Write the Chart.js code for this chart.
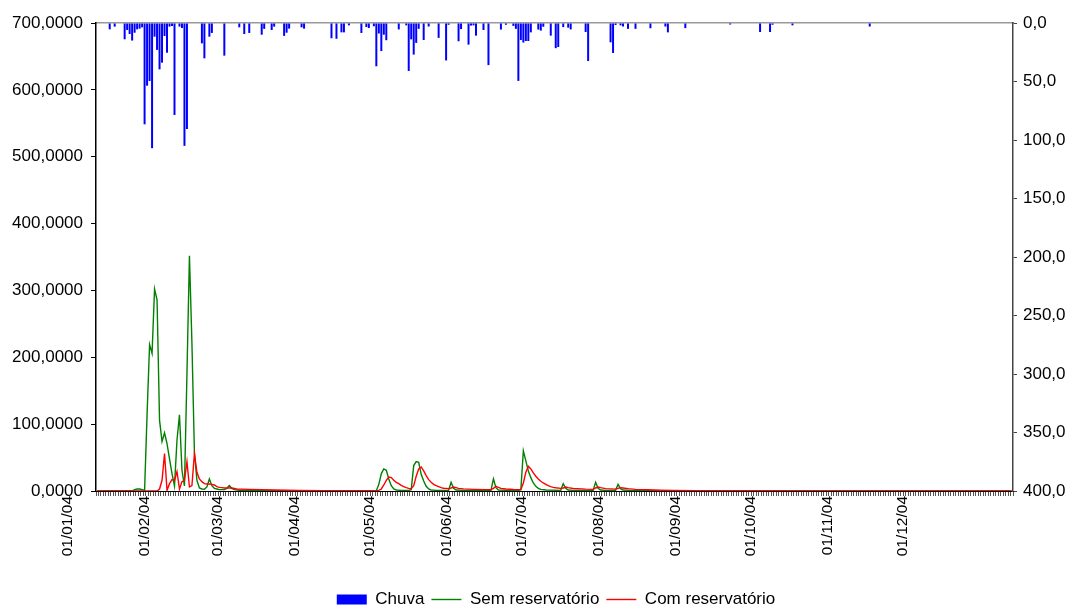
<!DOCTYPE html>
<html>
<head>
<meta charset="utf-8">
<script src="https://cdn.jsdelivr.net/npm/chart.js@4.4.1/dist/chart.umd.min.js"></script>
<style>
  html, body { margin: 0; padding: 0; background: #fff; }
  #wrap { width: 1072px; height: 606px; }
</style>
</head>
<body>
<div id="wrap"><canvas id="chart" width="1072" height="606"></canvas></div>
<script>
// dias: indice 0 = 01/01/04 (a serie comeca em 31/12/03 = -1)
const firstDay = -1;
const lastDay = 366;

// chuva diaria (mm) - [dia, valor]
const chuva = [
  [4,5.4],[6,3.1],[10,13.9],[11,6],[12,9.4],[13,15],[14,8.3],[15,5.4],[16,4.8],[17,3.7],
  [18,86.6],[19,53.6],[20,49.6],[21,107],[22,11.7],[23,23],[24,39.6],[25,33.9],[26,11.1],
  [27,25.4],[28,3.1],[29,2.6],[30,78.6],[32,3.1],[33,4.3],[34,105],[35,90.6],[41,17.4],
  [42,30.2],[44,11.7],[45,8.5],[50,27.9],[56,3.7],[58,9.4],[60,8.5],[65,10],[66,5],[69,6],
  [70,3.1],[74,11],[75,8.3],[76,4.8],[81,3.7],[82,4.8],[93,13],[95,13.5],[97,8],[98,8],
  [100,2],[105,8.5],[107,3.4],[108,4.3],[110,2.8],[111,37],[112,9],[113,24],[114,10],
  [115,14.7],[120,5.5],[123,2],[124,41],[125,14],[126,27],[127,17],[128,5],[130,14.5],
  [132,3],[136,12.7],[139,32],[140,1.5],[144,15.6],[145,5.2],[148,18.5],[149,2.2],[150,2],
  [151,10.8],[154,6],[156,36],[161,5.6],[163,1.5],[166,2.5],[167,5],[168,49.5],[169,14.5],
  [170,16.7],[171,15.4],[172,15.4],[173,8],[176,5.6],[177,6.5],[178,3.2],[181,10.8],
  [183,21.5],[184,20.5],[186,3.5],[188,4],[189,5.5],[195,7.7],[196,32.5],[205,16.5],
  [206,25.6],[207,1.7],[209,2],[210,3],[212,5],[215,5],[221,4.5],[227,3],[228,8],[235,4.4],
  [253,1.3],[265,7.7],[269,7.7],[270,1.5],[278,2],[309,3]
];

// vazao sem reservatorio - [dia, valor]
const semReserv = [
  [-1,0],[13,0],[14,2],[15,3],[16,3],[17,2],[18,1],[19,115],[20,219],[21,206],[22,302],
  [23,286],[24,106],[25,74],[26,87],[27,71],[28,48],[29,26],[30,7.5],[31,76],[32,114],
  [33,31],[34,7.5],[35,175],[36,352],[37,221],[38,57],[39,16],[40,4.5],[41,3],[42,2.5],
  [43,6],[44,18],[45,8],[46,4],[47,3],[48,2],[50,2],[51,4],[52,8],[53,4],[54,2],[56,1.2],
  [60,1],[70,0.5],[90,0.3],[110,0.2],[111,0.5],[112,10],[113,26],[114,33],[115,31],
  [116,18],[117,8],[118,3],[119,1.5],[121,1],[124,0.8],[125,2],[126,38],[127,44],[128,43],
  [129,25],[130,15],[131,7],[132,3],[133,1.5],[135,1],[140,1],[141,13],[142,4],[143,1.5],
  [146,1],[157,0.8],[158,18],[159,5],[160,1.5],[163,1],[168,0.8],[169,2],[170,60],[171,45],
  [172,30],[173,20],[174,12],[175,7],[176,4],[177,2.5],[179,1.5],[185,1],[186,11],[187,4],
  [188,1.5],[190,1],[198,0.8],[199,13],[200,4],[201,1.5],[203,1],[207,1],[208,10],[209,3.5],
  [210,1.5],[213,1],[220,0.6],[230,0.4],[250,0.2],[366,0]
];

// vazao com reservatorio - [dia, valor]
const comReserv = [
  [-1,0],[23,0],[24,3],[25,16],[26,56],[27,1],[28,11],[29,17],[30,16],[31,29],[32,3],
  [33,14],[34,16],[35,44],[36,6],[37,8],[38,56],[39,28],[40,18],[41,14],[42,11],[43,10.5],
  [44,10.5],[45,10],[46,9],[47,6.5],[48,5.5],[49,5],[50,4.5],[52,4.5],[53,4.5],[55,3],
  [60,2.5],[65,2],[70,1.4],[80,0.8],[90,0.6],[100,0.4],[110,0.3],[112,1],[113,3],[114,9],
  [115,16],[116,21],[117,20],[118,16],[119,13],[120,11],[121,8.5],[122,6.5],[123,5],
  [124,4],[125,3.5],[126,8],[127,22],[128,33],[129,36],[130,30],[131,23],[132,17],[133,13],
  [134,10],[135,8],[136,6.5],[137,5],[138,4.2],[140,3.5],[141,4.5],[142,6],[143,5],[144,4],
  [146,3.2],[150,2.5],[155,2],[157,2],[158,4],[159,7],[160,5.5],[161,4],[163,3],[166,2.2],
  [169,2],[170,12],[171,28],[172,37],[173,33],[174,27],[175,22],[176,18],[177,14.5],
  [178,12],[179,10],[180,8],[181,6.5],[182,5.5],[183,4.8],[185,4],[186,4.5],[187,6],
  [188,5],[190,3.8],[195,2.8],[198,2.5],[199,4.5],[200,6],[201,5],[203,3.5],[207,2.8],
  [208,4],[209,5],[210,4.5],[212,3.5],[215,2.5],[220,1.8],[225,1.2],[230,0.9],[240,0.6],
  [260,0.4],[300,0.2],[366,0.1]
];

const leftTicks = [0, 100, 200, 300, 400, 500, 600, 700];
const rightTicks = [0, 50, 100, 150, 200, 250, 300, 350, 400];

const FONT = "'Liberation Sans', Arial, sans-serif";

// datas da serie
const labels = [];
for (let d = firstDay; d <= lastDay; d++) {
    const dt = new Date(2004, 0, 1 + d);
    const dd = String(dt.getDate()).padStart(2, '0');
    const mm = String(dt.getMonth() + 1).padStart(2, '0');
    const yy = String(dt.getFullYear()).slice(2);
    labels.push(dd + '/' + mm + '/' + yy);
}

function toSeries(pairs, fill) {
    const arr = labels.map(() => fill);
    pairs.forEach(([d, v]) => { arr[d - firstDay] = v; });
    return arr;
}

const ctx = document.getElementById('chart').getContext('2d');
new Chart(ctx, {
    data: {
        labels: labels,
        datasets: [
            {
                type: 'bar',
                label: 'Chuva',
                data: toSeries(chuva, 0),
                backgroundColor: '#0000FF',
                borderWidth: 0,
                barPercentage: 0.8,
                categoryPercentage: 1,
                xAxisID: 'x',
                yAxisID: 'y2',
                pointStyle: 'rect',
                order: 2
            },
            {
                type: 'line',
                label: 'Sem reservatório',
                data: toSeries(semReserv, null),
                borderColor: '#008000',
                backgroundColor: '#008000',
                borderWidth: 1.4,
                pointRadius: 0,
                tension: 0,
                spanGaps: true,
                fill: false,
                xAxisID: 'x',
                yAxisID: 'y',
                pointStyle: 'line',
                order: 1
            },
            {
                type: 'line',
                label: 'Com reservatório',
                data: toSeries(comReserv, null),
                borderColor: '#FF0000',
                backgroundColor: '#FF0000',
                borderWidth: 1.4,
                pointRadius: 0,
                tension: 0,
                spanGaps: true,
                fill: false,
                xAxisID: 'x',
                yAxisID: 'y',
                pointStyle: 'line',
                order: 0
            }
        ]
    },
    options: {
        responsive: false,
        animation: false,
        devicePixelRatio: 1,
        // padding direita negativa: desloca a legenda para a direita como no original
        layout: { padding: { top: 23, left: 0, right: -40, bottom: -12 } },
        plugins: {
            tooltip: { enabled: false },
            legend: {
                position: 'bottom',
                labels: {
                    usePointStyle: true,
                    pointStyleWidth: 30,
                    boxHeight: 10,
                    padding: 7,
                    color: '#000',
                    font: { family: FONT, size: 17 },
                    sort: (a, b) => a.datasetIndex - b.datasetIndex
                }
            }
        },
        scales: {
            x: {
                type: 'category',
                position: 'bottom',
                offset: true,
                grid: { offset: true, drawOnChartArea: false, drawTicks: true, tickLength: 5, color: '#555' },
                border: { color: '#000', width: 1 },
                ticks: {
                    autoSkip: false,
                    minRotation: 90,
                    maxRotation: 90,
                    labelOffset: -32,
                    padding: 0,
                    color: '#000',
                    font: { family: FONT, size: 15.5 },
                    callback: function (value) {
                        const lab = this.getLabelForValue(value);
                        return lab.startsWith('01/') && lab.endsWith('/04') ? lab : '';
                    }
                },
                afterFit: (scale) => { scale.height = 93; }
            },
            x2: {
                type: 'category',
                position: 'top',
                offset: true,
                grid: { drawOnChartArea: false, drawTicks: false },
                border: { color: '#999999', width: 1.5 },
                ticks: { display: false },
                afterFit: (scale) => { scale.height = 0; }
            },
            y: {
                position: 'left',
                min: 0,
                max: 700,
                afterBuildTicks: (scale) => { scale.ticks = leftTicks.map(v => ({ value: v })); },
                grid: { drawOnChartArea: false, tickLength: 5, color: '#000' },
                border: { color: '#000', width: 1.5 },
                ticks: {
                    padding: 8,
                    color: '#000',
                    font: { family: FONT, size: 17 },
                    callback: (v) => v.toFixed(4).replace('.', ',')
                },
                afterFit: (scale) => { scale.width = 96; }
            },
            y2: {
                position: 'right',
                reverse: true,
                min: 0,
                max: 400,
                afterBuildTicks: (scale) => { scale.ticks = rightTicks.map(v => ({ value: v })); },
                grid: { drawOnChartArea: false, tickLength: 4, color: '#444' },
                border: { color: '#444', width: 1.5 },
                ticks: {
                    padding: 6,
                    color: '#000',
                    font: { family: FONT, size: 17 },
                    callback: (v) => v.toFixed(1).replace('.', ',')
                },
                afterFit: (scale) => { scale.width = 99; }
            }
        }
    }
});
</script>
</body>
</html>
